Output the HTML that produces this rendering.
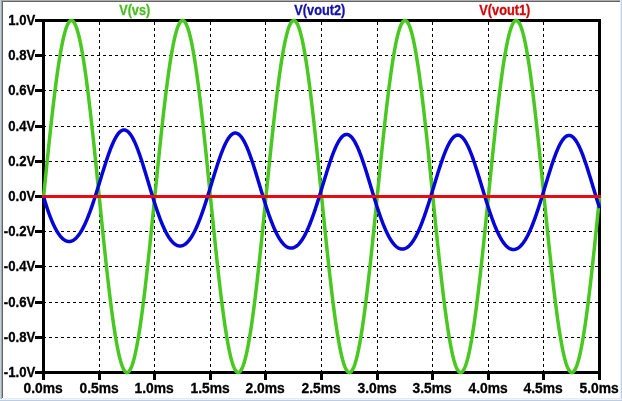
<!DOCTYPE html>
<html><head><meta charset="utf-8"><title>LTspice plot</title>
<style>
html,body{margin:0;padding:0;background:#fff;}
body{width:622px;height:401px;overflow:hidden;}
svg{display:block;will-change:transform;}
text{font-family:"Liberation Sans",Arial,sans-serif;font-weight:bold;font-size:14.3px;}
</style></head><body>
<svg width="622" height="401" viewBox="0 0 622 401">
<rect x="0" y="0" width="622" height="401" fill="#ffffff"/>
<g shape-rendering="crispEdges">
<rect x="0" y="0" width="620" height="1" fill="#adadad"/>
<rect x="2" y="1" width="618" height="1" fill="#646464"/>
<rect x="0" y="0" width="1" height="399" fill="#c6ced9"/>
<rect x="1" y="0" width="1" height="399" fill="#a3a7ae"/>
<rect x="2" y="1" width="1" height="397" fill="#62666a"/>
<rect x="620" y="0" width="1" height="401" fill="#e6eef8"/>
<rect x="621" y="0" width="1" height="401" fill="#bfd1ea"/>
<rect x="3" y="398" width="617" height="1" fill="#e9e9eb"/>
<rect x="0" y="399" width="622" height="1" fill="#eef4fb"/>
<rect x="0" y="400" width="622" height="1" fill="#b9cde7"/>
</g>
<g shape-rendering="crispEdges" stroke="#000" stroke-width="1" stroke-dasharray="3 3" fill="none">
<line x1="99.5" y1="22" x2="99.5" y2="371"/>
<line x1="154.5" y1="22" x2="154.5" y2="371"/>
<line x1="210.5" y1="22" x2="210.5" y2="371"/>
<line x1="265.5" y1="22" x2="265.5" y2="371"/>
<line x1="321.5" y1="22" x2="321.5" y2="371"/>
<line x1="377.5" y1="22" x2="377.5" y2="371"/>
<line x1="432.5" y1="22" x2="432.5" y2="371"/>
<line x1="488.5" y1="22" x2="488.5" y2="371"/>
<line x1="543.5" y1="22" x2="543.5" y2="371"/>
<line x1="43" y1="55.5" x2="598" y2="55.5"/>
<line x1="43" y1="90.5" x2="598" y2="90.5"/>
<line x1="43" y1="126.5" x2="598" y2="126.5"/>
<line x1="43" y1="161.5" x2="598" y2="161.5"/>
<line x1="43" y1="196.5" x2="598" y2="196.5"/>
<line x1="43" y1="231.5" x2="598" y2="231.5"/>
<line x1="43" y1="266.5" x2="598" y2="266.5"/>
<line x1="43" y1="302.5" x2="598" y2="302.5"/>
<line x1="43" y1="337.5" x2="598" y2="337.5"/>
</g>
<g shape-rendering="crispEdges" fill="#000">
<rect x="42" y="19" width="559" height="3"/>
<rect x="42" y="371" width="559" height="3"/>
<rect x="42" y="19" width="3" height="355"/>
<rect x="598" y="19" width="3" height="355"/>
<rect x="35" y="19" width="8" height="3"/>
<rect x="35" y="54" width="8" height="3"/>
<rect x="35" y="89" width="8" height="3"/>
<rect x="35" y="125" width="8" height="3"/>
<rect x="35" y="160" width="8" height="3"/>
<rect x="35" y="195" width="8" height="3"/>
<rect x="35" y="230" width="8" height="3"/>
<rect x="35" y="265" width="8" height="3"/>
<rect x="35" y="301" width="8" height="3"/>
<rect x="35" y="336" width="8" height="3"/>
<rect x="35" y="371" width="8" height="3"/>
<rect x="42" y="372" width="3" height="8"/>
<rect x="98" y="372" width="3" height="8"/>
<rect x="153" y="372" width="3" height="8"/>
<rect x="209" y="372" width="3" height="8"/>
<rect x="264" y="372" width="3" height="8"/>
<rect x="320" y="372" width="3" height="8"/>
<rect x="376" y="372" width="3" height="8"/>
<rect x="431" y="372" width="3" height="8"/>
<rect x="487" y="372" width="3" height="8"/>
<rect x="542" y="372" width="3" height="8"/>
<rect x="598" y="372" width="3" height="8"/>
</g>
<g fill="none" stroke-width="3.5" stroke-linejoin="round" stroke-linecap="butt">
<polyline stroke="#48c820" points="43.60,196.50 44.00,192.55 44.39,188.60 44.79,184.66 45.19,180.72 45.59,176.79 45.98,172.87 46.38,168.97 46.78,165.07 47.17,161.20 47.57,157.34 47.97,153.50 48.37,149.68 48.76,145.88 49.16,142.11 49.56,138.37 49.95,134.66 50.35,130.98 50.75,127.33 51.15,123.71 51.54,120.14 51.94,116.60 52.34,113.10 52.73,109.64 53.13,106.23 53.53,102.86 53.93,99.54 54.32,96.27 54.72,93.05 55.12,89.88 55.51,86.77 55.91,83.71 56.31,80.70 56.71,77.76 57.10,74.87 57.50,72.05 57.90,69.29 58.29,66.59 58.69,63.96 59.09,61.39 59.49,58.90 59.88,56.47 60.28,54.11 60.68,51.83 61.07,49.62 61.47,47.48 61.87,45.41 62.27,43.43 62.66,41.52 63.06,39.68 63.46,37.93 63.85,36.26 64.25,34.66 64.65,33.15 65.05,31.72 65.44,30.38 65.84,29.11 66.24,27.94 66.63,26.84 67.03,25.83 67.43,24.91 67.83,24.08 68.22,23.33 68.62,22.67 69.02,22.09 69.41,21.61 69.81,21.21 70.21,20.90 70.61,20.68 71.00,20.54 71.40,20.50 71.80,20.54 72.19,20.68 72.59,20.90 72.99,21.21 73.39,21.61 73.78,22.09 74.18,22.67 74.58,23.33 74.97,24.08 75.37,24.91 75.77,25.83 76.17,26.84 76.56,27.94 76.96,29.11 77.36,30.38 77.75,31.72 78.15,33.15 78.55,34.66 78.95,36.26 79.34,37.93 79.74,39.68 80.14,41.52 80.53,43.43 80.93,45.41 81.33,47.48 81.73,49.62 82.12,51.83 82.52,54.11 82.92,56.47 83.31,58.90 83.71,61.39 84.11,63.96 84.51,66.59 84.90,69.29 85.30,72.05 85.70,74.87 86.09,77.76 86.49,80.70 86.89,83.71 87.29,86.77 87.68,89.88 88.08,93.05 88.48,96.27 88.87,99.54 89.27,102.86 89.67,106.23 90.07,109.64 90.46,113.10 90.86,116.60 91.26,120.14 91.65,123.71 92.05,127.33 92.45,130.98 92.85,134.66 93.24,138.37 93.64,142.11 94.04,145.88 94.43,149.68 94.83,153.50 95.23,157.34 95.63,161.20 96.02,165.07 96.42,168.97 96.82,172.87 97.21,176.79 97.61,180.72 98.01,184.66 98.41,188.60 98.80,192.55 99.20,196.50 99.60,200.45 99.99,204.40 100.39,208.34 100.79,212.28 101.19,216.21 101.58,220.13 101.98,224.03 102.38,227.93 102.77,231.80 103.17,235.66 103.57,239.50 103.97,243.32 104.36,247.12 104.76,250.89 105.16,254.63 105.55,258.34 105.95,262.02 106.35,265.67 106.75,269.29 107.14,272.86 107.54,276.40 107.94,279.90 108.33,283.36 108.73,286.77 109.13,290.14 109.53,293.46 109.92,296.73 110.32,299.95 110.72,303.12 111.11,306.23 111.51,309.29 111.91,312.30 112.31,315.24 112.70,318.13 113.10,320.95 113.50,323.71 113.89,326.41 114.29,329.04 114.69,331.61 115.09,334.10 115.48,336.53 115.88,338.89 116.28,341.17 116.67,343.38 117.07,345.52 117.47,347.59 117.87,349.57 118.26,351.48 118.66,353.32 119.06,355.07 119.45,356.74 119.85,358.34 120.25,359.85 120.65,361.28 121.04,362.62 121.44,363.89 121.84,365.06 122.23,366.16 122.63,367.17 123.03,368.09 123.43,368.92 123.82,369.67 124.22,370.33 124.62,370.91 125.01,371.39 125.41,371.79 125.81,372.10 126.21,372.32 126.60,372.46 127.00,372.50 127.40,372.46 127.79,372.32 128.19,372.10 128.59,371.79 128.99,371.39 129.38,370.91 129.78,370.33 130.18,369.67 130.57,368.92 130.97,368.09 131.37,367.17 131.77,366.16 132.16,365.06 132.56,363.89 132.96,362.62 133.35,361.28 133.75,359.85 134.15,358.34 134.55,356.74 134.94,355.07 135.34,353.32 135.74,351.48 136.13,349.57 136.53,347.59 136.93,345.52 137.33,343.38 137.72,341.17 138.12,338.89 138.52,336.53 138.91,334.10 139.31,331.61 139.71,329.04 140.11,326.41 140.50,323.71 140.90,320.95 141.30,318.13 141.69,315.24 142.09,312.30 142.49,309.29 142.89,306.23 143.28,303.12 143.68,299.95 144.08,296.73 144.47,293.46 144.87,290.14 145.27,286.77 145.67,283.36 146.06,279.90 146.46,276.40 146.86,272.86 147.25,269.29 147.65,265.67 148.05,262.02 148.45,258.34 148.84,254.63 149.24,250.89 149.64,247.12 150.03,243.32 150.43,239.50 150.83,235.66 151.23,231.80 151.62,227.93 152.02,224.03 152.42,220.13 152.81,216.21 153.21,212.28 153.61,208.34 154.01,204.40 154.40,200.45 154.80,196.50 155.20,192.55 155.59,188.60 155.99,184.66 156.39,180.72 156.79,176.79 157.18,172.87 157.58,168.97 157.98,165.07 158.37,161.20 158.77,157.34 159.17,153.50 159.57,149.68 159.96,145.88 160.36,142.11 160.76,138.37 161.15,134.66 161.55,130.98 161.95,127.33 162.35,123.71 162.74,120.14 163.14,116.60 163.54,113.10 163.93,109.64 164.33,106.23 164.73,102.86 165.13,99.54 165.52,96.27 165.92,93.05 166.32,89.88 166.71,86.77 167.11,83.71 167.51,80.70 167.91,77.76 168.30,74.87 168.70,72.05 169.10,69.29 169.49,66.59 169.89,63.96 170.29,61.39 170.69,58.90 171.08,56.47 171.48,54.11 171.88,51.83 172.27,49.62 172.67,47.48 173.07,45.41 173.47,43.43 173.86,41.52 174.26,39.68 174.66,37.93 175.05,36.26 175.45,34.66 175.85,33.15 176.25,31.72 176.64,30.38 177.04,29.11 177.44,27.94 177.83,26.84 178.23,25.83 178.63,24.91 179.03,24.08 179.42,23.33 179.82,22.67 180.22,22.09 180.61,21.61 181.01,21.21 181.41,20.90 181.81,20.68 182.20,20.54 182.60,20.50 183.00,20.54 183.39,20.68 183.79,20.90 184.19,21.21 184.59,21.61 184.98,22.09 185.38,22.67 185.78,23.33 186.17,24.08 186.57,24.91 186.97,25.83 187.37,26.84 187.76,27.94 188.16,29.11 188.56,30.38 188.95,31.72 189.35,33.15 189.75,34.66 190.15,36.26 190.54,37.93 190.94,39.68 191.34,41.52 191.73,43.43 192.13,45.41 192.53,47.48 192.93,49.62 193.32,51.83 193.72,54.11 194.12,56.47 194.51,58.90 194.91,61.39 195.31,63.96 195.71,66.59 196.10,69.29 196.50,72.05 196.90,74.87 197.29,77.76 197.69,80.70 198.09,83.71 198.49,86.77 198.88,89.88 199.28,93.05 199.68,96.27 200.07,99.54 200.47,102.86 200.87,106.23 201.27,109.64 201.66,113.10 202.06,116.60 202.46,120.14 202.85,123.71 203.25,127.33 203.65,130.98 204.05,134.66 204.44,138.37 204.84,142.11 205.24,145.88 205.63,149.68 206.03,153.50 206.43,157.34 206.83,161.20 207.22,165.07 207.62,168.97 208.02,172.87 208.41,176.79 208.81,180.72 209.21,184.66 209.61,188.60 210.00,192.55 210.40,196.50 210.80,200.45 211.19,204.40 211.59,208.34 211.99,212.28 212.39,216.21 212.78,220.13 213.18,224.03 213.58,227.93 213.97,231.80 214.37,235.66 214.77,239.50 215.17,243.32 215.56,247.12 215.96,250.89 216.36,254.63 216.75,258.34 217.15,262.02 217.55,265.67 217.95,269.29 218.34,272.86 218.74,276.40 219.14,279.90 219.53,283.36 219.93,286.77 220.33,290.14 220.73,293.46 221.12,296.73 221.52,299.95 221.92,303.12 222.31,306.23 222.71,309.29 223.11,312.30 223.51,315.24 223.90,318.13 224.30,320.95 224.70,323.71 225.09,326.41 225.49,329.04 225.89,331.61 226.29,334.10 226.68,336.53 227.08,338.89 227.48,341.17 227.87,343.38 228.27,345.52 228.67,347.59 229.07,349.57 229.46,351.48 229.86,353.32 230.26,355.07 230.65,356.74 231.05,358.34 231.45,359.85 231.85,361.28 232.24,362.62 232.64,363.89 233.04,365.06 233.43,366.16 233.83,367.17 234.23,368.09 234.63,368.92 235.02,369.67 235.42,370.33 235.82,370.91 236.21,371.39 236.61,371.79 237.01,372.10 237.41,372.32 237.80,372.46 238.20,372.50 238.60,372.46 238.99,372.32 239.39,372.10 239.79,371.79 240.19,371.39 240.58,370.91 240.98,370.33 241.38,369.67 241.77,368.92 242.17,368.09 242.57,367.17 242.97,366.16 243.36,365.06 243.76,363.89 244.16,362.62 244.55,361.28 244.95,359.85 245.35,358.34 245.75,356.74 246.14,355.07 246.54,353.32 246.94,351.48 247.33,349.57 247.73,347.59 248.13,345.52 248.53,343.38 248.92,341.17 249.32,338.89 249.72,336.53 250.11,334.10 250.51,331.61 250.91,329.04 251.31,326.41 251.70,323.71 252.10,320.95 252.50,318.13 252.89,315.24 253.29,312.30 253.69,309.29 254.09,306.23 254.48,303.12 254.88,299.95 255.28,296.73 255.67,293.46 256.07,290.14 256.47,286.77 256.87,283.36 257.26,279.90 257.66,276.40 258.06,272.86 258.45,269.29 258.85,265.67 259.25,262.02 259.65,258.34 260.04,254.63 260.44,250.89 260.84,247.12 261.23,243.32 261.63,239.50 262.03,235.66 262.43,231.80 262.82,227.93 263.22,224.03 263.62,220.13 264.01,216.21 264.41,212.28 264.81,208.34 265.21,204.40 265.60,200.45 266.00,196.50 266.40,192.55 266.79,188.60 267.19,184.66 267.59,180.72 267.99,176.79 268.38,172.87 268.78,168.97 269.18,165.07 269.57,161.20 269.97,157.34 270.37,153.50 270.77,149.68 271.16,145.88 271.56,142.11 271.96,138.37 272.35,134.66 272.75,130.98 273.15,127.33 273.55,123.71 273.94,120.14 274.34,116.60 274.74,113.10 275.13,109.64 275.53,106.23 275.93,102.86 276.33,99.54 276.72,96.27 277.12,93.05 277.52,89.88 277.91,86.77 278.31,83.71 278.71,80.70 279.11,77.76 279.50,74.87 279.90,72.05 280.30,69.29 280.69,66.59 281.09,63.96 281.49,61.39 281.89,58.90 282.28,56.47 282.68,54.11 283.08,51.83 283.47,49.62 283.87,47.48 284.27,45.41 284.67,43.43 285.06,41.52 285.46,39.68 285.86,37.93 286.25,36.26 286.65,34.66 287.05,33.15 287.45,31.72 287.84,30.38 288.24,29.11 288.64,27.94 289.03,26.84 289.43,25.83 289.83,24.91 290.23,24.08 290.62,23.33 291.02,22.67 291.42,22.09 291.81,21.61 292.21,21.21 292.61,20.90 293.01,20.68 293.40,20.54 293.80,20.50 294.20,20.54 294.59,20.68 294.99,20.90 295.39,21.21 295.79,21.61 296.18,22.09 296.58,22.67 296.98,23.33 297.37,24.08 297.77,24.91 298.17,25.83 298.57,26.84 298.96,27.94 299.36,29.11 299.76,30.38 300.15,31.72 300.55,33.15 300.95,34.66 301.35,36.26 301.74,37.93 302.14,39.68 302.54,41.52 302.93,43.43 303.33,45.41 303.73,47.48 304.13,49.62 304.52,51.83 304.92,54.11 305.32,56.47 305.71,58.90 306.11,61.39 306.51,63.96 306.91,66.59 307.30,69.29 307.70,72.05 308.10,74.87 308.49,77.76 308.89,80.70 309.29,83.71 309.69,86.77 310.08,89.88 310.48,93.05 310.88,96.27 311.27,99.54 311.67,102.86 312.07,106.23 312.47,109.64 312.86,113.10 313.26,116.60 313.66,120.14 314.05,123.71 314.45,127.33 314.85,130.98 315.25,134.66 315.64,138.37 316.04,142.11 316.44,145.88 316.83,149.68 317.23,153.50 317.63,157.34 318.03,161.20 318.42,165.07 318.82,168.97 319.22,172.87 319.61,176.79 320.01,180.72 320.41,184.66 320.81,188.60 321.20,192.55 321.60,196.50 322.00,200.45 322.39,204.40 322.79,208.34 323.19,212.28 323.59,216.21 323.98,220.13 324.38,224.03 324.78,227.93 325.17,231.80 325.57,235.66 325.97,239.50 326.37,243.32 326.76,247.12 327.16,250.89 327.56,254.63 327.95,258.34 328.35,262.02 328.75,265.67 329.15,269.29 329.54,272.86 329.94,276.40 330.34,279.90 330.73,283.36 331.13,286.77 331.53,290.14 331.93,293.46 332.32,296.73 332.72,299.95 333.12,303.12 333.51,306.23 333.91,309.29 334.31,312.30 334.71,315.24 335.10,318.13 335.50,320.95 335.90,323.71 336.29,326.41 336.69,329.04 337.09,331.61 337.49,334.10 337.88,336.53 338.28,338.89 338.68,341.17 339.07,343.38 339.47,345.52 339.87,347.59 340.27,349.57 340.66,351.48 341.06,353.32 341.46,355.07 341.85,356.74 342.25,358.34 342.65,359.85 343.05,361.28 343.44,362.62 343.84,363.89 344.24,365.06 344.63,366.16 345.03,367.17 345.43,368.09 345.83,368.92 346.22,369.67 346.62,370.33 347.02,370.91 347.41,371.39 347.81,371.79 348.21,372.10 348.61,372.32 349.00,372.46 349.40,372.50 349.80,372.46 350.19,372.32 350.59,372.10 350.99,371.79 351.39,371.39 351.78,370.91 352.18,370.33 352.58,369.67 352.97,368.92 353.37,368.09 353.77,367.17 354.17,366.16 354.56,365.06 354.96,363.89 355.36,362.62 355.75,361.28 356.15,359.85 356.55,358.34 356.95,356.74 357.34,355.07 357.74,353.32 358.14,351.48 358.53,349.57 358.93,347.59 359.33,345.52 359.73,343.38 360.12,341.17 360.52,338.89 360.92,336.53 361.31,334.10 361.71,331.61 362.11,329.04 362.51,326.41 362.90,323.71 363.30,320.95 363.70,318.13 364.09,315.24 364.49,312.30 364.89,309.29 365.29,306.23 365.68,303.12 366.08,299.95 366.48,296.73 366.87,293.46 367.27,290.14 367.67,286.77 368.07,283.36 368.46,279.90 368.86,276.40 369.26,272.86 369.65,269.29 370.05,265.67 370.45,262.02 370.85,258.34 371.24,254.63 371.64,250.89 372.04,247.12 372.43,243.32 372.83,239.50 373.23,235.66 373.63,231.80 374.02,227.93 374.42,224.03 374.82,220.13 375.21,216.21 375.61,212.28 376.01,208.34 376.41,204.40 376.80,200.45 377.20,196.50 377.60,192.55 377.99,188.60 378.39,184.66 378.79,180.72 379.19,176.79 379.58,172.87 379.98,168.97 380.38,165.07 380.77,161.20 381.17,157.34 381.57,153.50 381.97,149.68 382.36,145.88 382.76,142.11 383.16,138.37 383.55,134.66 383.95,130.98 384.35,127.33 384.75,123.71 385.14,120.14 385.54,116.60 385.94,113.10 386.33,109.64 386.73,106.23 387.13,102.86 387.53,99.54 387.92,96.27 388.32,93.05 388.72,89.88 389.11,86.77 389.51,83.71 389.91,80.70 390.31,77.76 390.70,74.87 391.10,72.05 391.50,69.29 391.89,66.59 392.29,63.96 392.69,61.39 393.09,58.90 393.48,56.47 393.88,54.11 394.28,51.83 394.67,49.62 395.07,47.48 395.47,45.41 395.87,43.43 396.26,41.52 396.66,39.68 397.06,37.93 397.45,36.26 397.85,34.66 398.25,33.15 398.65,31.72 399.04,30.38 399.44,29.11 399.84,27.94 400.23,26.84 400.63,25.83 401.03,24.91 401.43,24.08 401.82,23.33 402.22,22.67 402.62,22.09 403.01,21.61 403.41,21.21 403.81,20.90 404.21,20.68 404.60,20.54 405.00,20.50 405.40,20.54 405.79,20.68 406.19,20.90 406.59,21.21 406.99,21.61 407.38,22.09 407.78,22.67 408.18,23.33 408.57,24.08 408.97,24.91 409.37,25.83 409.77,26.84 410.16,27.94 410.56,29.11 410.96,30.38 411.35,31.72 411.75,33.15 412.15,34.66 412.55,36.26 412.94,37.93 413.34,39.68 413.74,41.52 414.13,43.43 414.53,45.41 414.93,47.48 415.33,49.62 415.72,51.83 416.12,54.11 416.52,56.47 416.91,58.90 417.31,61.39 417.71,63.96 418.11,66.59 418.50,69.29 418.90,72.05 419.30,74.87 419.69,77.76 420.09,80.70 420.49,83.71 420.89,86.77 421.28,89.88 421.68,93.05 422.08,96.27 422.47,99.54 422.87,102.86 423.27,106.23 423.67,109.64 424.06,113.10 424.46,116.60 424.86,120.14 425.25,123.71 425.65,127.33 426.05,130.98 426.45,134.66 426.84,138.37 427.24,142.11 427.64,145.88 428.03,149.68 428.43,153.50 428.83,157.34 429.23,161.20 429.62,165.07 430.02,168.97 430.42,172.87 430.81,176.79 431.21,180.72 431.61,184.66 432.01,188.60 432.40,192.55 432.80,196.50 433.20,200.45 433.59,204.40 433.99,208.34 434.39,212.28 434.79,216.21 435.18,220.13 435.58,224.03 435.98,227.93 436.37,231.80 436.77,235.66 437.17,239.50 437.57,243.32 437.96,247.12 438.36,250.89 438.76,254.63 439.15,258.34 439.55,262.02 439.95,265.67 440.35,269.29 440.74,272.86 441.14,276.40 441.54,279.90 441.93,283.36 442.33,286.77 442.73,290.14 443.13,293.46 443.52,296.73 443.92,299.95 444.32,303.12 444.71,306.23 445.11,309.29 445.51,312.30 445.91,315.24 446.30,318.13 446.70,320.95 447.10,323.71 447.49,326.41 447.89,329.04 448.29,331.61 448.69,334.10 449.08,336.53 449.48,338.89 449.88,341.17 450.27,343.38 450.67,345.52 451.07,347.59 451.47,349.57 451.86,351.48 452.26,353.32 452.66,355.07 453.05,356.74 453.45,358.34 453.85,359.85 454.25,361.28 454.64,362.62 455.04,363.89 455.44,365.06 455.83,366.16 456.23,367.17 456.63,368.09 457.03,368.92 457.42,369.67 457.82,370.33 458.22,370.91 458.61,371.39 459.01,371.79 459.41,372.10 459.81,372.32 460.20,372.46 460.60,372.50 461.00,372.46 461.39,372.32 461.79,372.10 462.19,371.79 462.59,371.39 462.98,370.91 463.38,370.33 463.78,369.67 464.17,368.92 464.57,368.09 464.97,367.17 465.37,366.16 465.76,365.06 466.16,363.89 466.56,362.62 466.95,361.28 467.35,359.85 467.75,358.34 468.15,356.74 468.54,355.07 468.94,353.32 469.34,351.48 469.73,349.57 470.13,347.59 470.53,345.52 470.93,343.38 471.32,341.17 471.72,338.89 472.12,336.53 472.51,334.10 472.91,331.61 473.31,329.04 473.71,326.41 474.10,323.71 474.50,320.95 474.90,318.13 475.29,315.24 475.69,312.30 476.09,309.29 476.49,306.23 476.88,303.12 477.28,299.95 477.68,296.73 478.07,293.46 478.47,290.14 478.87,286.77 479.27,283.36 479.66,279.90 480.06,276.40 480.46,272.86 480.85,269.29 481.25,265.67 481.65,262.02 482.05,258.34 482.44,254.63 482.84,250.89 483.24,247.12 483.63,243.32 484.03,239.50 484.43,235.66 484.83,231.80 485.22,227.93 485.62,224.03 486.02,220.13 486.41,216.21 486.81,212.28 487.21,208.34 487.61,204.40 488.00,200.45 488.40,196.50 488.80,192.55 489.19,188.60 489.59,184.66 489.99,180.72 490.39,176.79 490.78,172.87 491.18,168.97 491.58,165.07 491.97,161.20 492.37,157.34 492.77,153.50 493.17,149.68 493.56,145.88 493.96,142.11 494.36,138.37 494.75,134.66 495.15,130.98 495.55,127.33 495.95,123.71 496.34,120.14 496.74,116.60 497.14,113.10 497.53,109.64 497.93,106.23 498.33,102.86 498.73,99.54 499.12,96.27 499.52,93.05 499.92,89.88 500.31,86.77 500.71,83.71 501.11,80.70 501.51,77.76 501.90,74.87 502.30,72.05 502.70,69.29 503.09,66.59 503.49,63.96 503.89,61.39 504.29,58.90 504.68,56.47 505.08,54.11 505.48,51.83 505.87,49.62 506.27,47.48 506.67,45.41 507.07,43.43 507.46,41.52 507.86,39.68 508.26,37.93 508.65,36.26 509.05,34.66 509.45,33.15 509.85,31.72 510.24,30.38 510.64,29.11 511.04,27.94 511.43,26.84 511.83,25.83 512.23,24.91 512.63,24.08 513.02,23.33 513.42,22.67 513.82,22.09 514.21,21.61 514.61,21.21 515.01,20.90 515.41,20.68 515.80,20.54 516.20,20.50 516.60,20.54 516.99,20.68 517.39,20.90 517.79,21.21 518.19,21.61 518.58,22.09 518.98,22.67 519.38,23.33 519.77,24.08 520.17,24.91 520.57,25.83 520.97,26.84 521.36,27.94 521.76,29.11 522.16,30.38 522.55,31.72 522.95,33.15 523.35,34.66 523.75,36.26 524.14,37.93 524.54,39.68 524.94,41.52 525.33,43.43 525.73,45.41 526.13,47.48 526.53,49.62 526.92,51.83 527.32,54.11 527.72,56.47 528.11,58.90 528.51,61.39 528.91,63.96 529.31,66.59 529.70,69.29 530.10,72.05 530.50,74.87 530.89,77.76 531.29,80.70 531.69,83.71 532.09,86.77 532.48,89.88 532.88,93.05 533.28,96.27 533.67,99.54 534.07,102.86 534.47,106.23 534.87,109.64 535.26,113.10 535.66,116.60 536.06,120.14 536.45,123.71 536.85,127.33 537.25,130.98 537.65,134.66 538.04,138.37 538.44,142.11 538.84,145.88 539.23,149.68 539.63,153.50 540.03,157.34 540.43,161.20 540.82,165.07 541.22,168.97 541.62,172.87 542.01,176.79 542.41,180.72 542.81,184.66 543.21,188.60 543.60,192.55 544.00,196.50 544.40,200.45 544.79,204.40 545.19,208.34 545.59,212.28 545.99,216.21 546.38,220.13 546.78,224.03 547.18,227.93 547.57,231.80 547.97,235.66 548.37,239.50 548.77,243.32 549.16,247.12 549.56,250.89 549.96,254.63 550.35,258.34 550.75,262.02 551.15,265.67 551.55,269.29 551.94,272.86 552.34,276.40 552.74,279.90 553.13,283.36 553.53,286.77 553.93,290.14 554.33,293.46 554.72,296.73 555.12,299.95 555.52,303.12 555.91,306.23 556.31,309.29 556.71,312.30 557.11,315.24 557.50,318.13 557.90,320.95 558.30,323.71 558.69,326.41 559.09,329.04 559.49,331.61 559.89,334.10 560.28,336.53 560.68,338.89 561.08,341.17 561.47,343.38 561.87,345.52 562.27,347.59 562.67,349.57 563.06,351.48 563.46,353.32 563.86,355.07 564.25,356.74 564.65,358.34 565.05,359.85 565.45,361.28 565.84,362.62 566.24,363.89 566.64,365.06 567.03,366.16 567.43,367.17 567.83,368.09 568.23,368.92 568.62,369.67 569.02,370.33 569.42,370.91 569.81,371.39 570.21,371.79 570.61,372.10 571.01,372.32 571.40,372.46 571.80,372.50 572.20,372.46 572.59,372.32 572.99,372.10 573.39,371.79 573.79,371.39 574.18,370.91 574.58,370.33 574.98,369.67 575.37,368.92 575.77,368.09 576.17,367.17 576.57,366.16 576.96,365.06 577.36,363.89 577.76,362.62 578.15,361.28 578.55,359.85 578.95,358.34 579.35,356.74 579.74,355.07 580.14,353.32 580.54,351.48 580.93,349.57 581.33,347.59 581.73,345.52 582.13,343.38 582.52,341.17 582.92,338.89 583.32,336.53 583.71,334.10 584.11,331.61 584.51,329.04 584.91,326.41 585.30,323.71 585.70,320.95 586.10,318.13 586.49,315.24 586.89,312.30 587.29,309.29 587.69,306.23 588.08,303.12 588.48,299.95 588.88,296.73 589.27,293.46 589.67,290.14 590.07,286.77 590.47,283.36 590.86,279.90 591.26,276.40 591.66,272.86 592.05,269.29 592.45,265.67 592.85,262.02 593.25,258.34 593.64,254.63 594.04,250.89 594.44,247.12 594.83,243.32 595.23,239.50 595.63,235.66 596.03,231.80 596.42,227.93 596.82,224.03 597.22,220.13 597.61,216.21 598.01,212.28 598.41,208.34 598.81,204.40 599.20,200.45 599.60,196.50"/>
<polyline stroke="#0505d7" points="43.60,196.50 44.00,197.93 44.39,199.33 44.79,200.69 45.19,202.03 45.59,203.34 45.98,204.62 46.38,205.88 46.78,207.11 47.17,208.32 47.57,209.51 47.97,210.67 48.37,211.81 48.76,212.93 49.16,214.02 49.56,215.10 49.95,216.15 50.35,217.18 50.75,218.19 51.15,219.18 51.54,220.15 51.94,221.10 52.34,222.03 52.73,222.93 53.13,223.82 53.53,224.68 53.93,225.53 54.32,226.35 54.72,227.15 55.12,227.93 55.51,228.68 55.91,229.42 56.31,230.14 56.71,230.83 57.10,231.50 57.50,232.15 57.90,232.78 58.29,233.39 58.69,233.97 59.09,234.54 59.49,235.08 59.88,235.60 60.28,236.10 60.68,236.57 61.07,237.03 61.47,237.46 61.87,237.87 62.27,238.26 62.66,238.63 63.06,238.97 63.46,239.29 63.85,239.59 64.25,239.87 64.65,240.13 65.05,240.36 65.44,240.58 65.84,240.77 66.24,240.93 66.63,241.08 67.03,241.20 67.43,241.30 67.83,241.38 68.22,241.44 68.62,241.48 69.02,241.49 69.41,241.48 69.81,241.45 70.21,241.40 70.61,241.32 71.00,241.23 71.40,241.11 71.80,240.97 72.19,240.80 72.59,240.62 72.99,240.41 73.39,240.18 73.78,239.93 74.18,239.65 74.58,239.36 74.97,239.04 75.37,238.70 75.77,238.34 76.17,237.96 76.56,237.55 76.96,237.13 77.36,236.68 77.75,236.21 78.15,235.72 78.55,235.20 78.95,234.67 79.34,234.11 79.74,233.54 80.14,232.94 80.53,232.32 80.93,231.68 81.33,231.01 81.73,230.33 82.12,229.63 82.52,228.90 82.92,228.16 83.31,227.40 83.71,226.61 84.11,225.81 84.51,224.98 84.90,224.14 85.30,223.28 85.70,222.39 86.09,221.49 86.49,220.57 86.89,219.64 87.29,218.68 87.68,217.71 88.08,216.72 88.48,215.71 88.87,214.68 89.27,213.64 89.67,212.59 90.07,211.51 90.46,210.42 90.86,209.32 91.26,208.20 91.65,207.07 92.05,205.93 92.45,204.77 92.85,203.60 93.24,202.42 93.64,201.22 94.04,200.02 94.43,198.80 94.83,197.58 95.23,196.35 95.63,195.10 96.02,193.85 96.42,192.59 96.82,191.33 97.21,190.06 97.61,188.78 98.01,187.50 98.41,186.21 98.80,184.92 99.20,183.63 99.60,182.33 99.99,181.04 100.39,179.74 100.79,178.45 101.19,177.15 101.58,175.86 101.98,174.57 102.38,173.28 102.77,172.00 103.17,170.72 103.57,169.45 103.97,168.18 104.36,166.92 104.76,165.67 105.16,164.43 105.55,163.20 105.95,161.98 106.35,160.77 106.75,159.58 107.14,158.39 107.54,157.22 107.94,156.07 108.33,154.93 108.73,153.80 109.13,152.70 109.53,151.61 109.92,150.54 110.32,149.49 110.72,148.46 111.11,147.45 111.51,146.47 111.91,145.50 112.31,144.56 112.70,143.64 113.10,142.75 113.50,141.88 113.89,141.04 114.29,140.23 114.69,139.44 115.09,138.68 115.48,137.95 115.88,137.24 116.28,136.57 116.67,135.93 117.07,135.32 117.47,134.73 117.87,134.18 118.26,133.67 118.66,133.18 119.06,132.73 119.45,132.31 119.85,131.92 120.25,131.57 120.65,131.25 121.04,130.97 121.44,130.72 121.84,130.50 122.23,130.32 122.63,130.18 123.03,130.07 123.43,129.99 123.82,129.95 124.22,129.95 124.62,129.98 125.01,130.05 125.41,130.15 125.81,130.29 126.21,130.46 126.60,130.67 127.00,130.91 127.40,131.19 127.79,131.50 128.19,131.85 128.59,132.23 128.99,132.65 129.38,133.09 129.78,133.58 130.18,134.09 130.57,134.64 130.97,135.22 131.37,135.83 131.77,136.47 132.16,137.14 132.56,137.84 132.96,138.57 133.35,139.33 133.75,140.12 134.15,140.94 134.55,141.78 134.94,142.65 135.34,143.55 135.74,144.47 136.13,145.42 136.53,146.39 136.93,147.38 137.33,148.40 137.72,149.44 138.12,150.50 138.52,151.58 138.91,152.67 139.31,153.79 139.71,154.93 140.11,156.08 140.50,157.25 140.90,158.44 141.30,159.64 141.69,160.85 142.09,162.08 142.49,163.32 142.89,164.57 143.28,165.83 143.68,167.10 144.08,168.39 144.47,169.67 144.87,170.97 145.27,172.28 145.67,173.58 146.06,174.90 146.46,176.22 146.86,177.54 147.25,178.86 147.65,180.19 148.05,181.52 148.45,182.85 148.84,184.17 149.24,185.50 149.64,186.82 150.03,188.15 150.43,189.46 150.83,190.78 151.23,192.09 151.62,193.39 152.02,194.69 152.42,195.98 152.81,197.27 153.21,198.54 153.61,199.81 154.01,201.07 154.40,202.32 154.80,203.56 155.20,204.78 155.59,206.00 155.99,207.20 156.39,208.39 156.79,209.57 157.18,210.74 157.58,211.89 157.98,213.02 158.37,214.15 158.77,215.25 159.17,216.34 159.57,217.42 159.96,218.48 160.36,219.52 160.76,220.54 161.15,221.55 161.55,222.54 161.95,223.51 162.35,224.47 162.74,225.40 163.14,226.32 163.54,227.22 163.93,228.10 164.33,228.95 164.73,229.79 165.13,230.61 165.52,231.41 165.92,232.19 166.32,232.95 166.71,233.69 167.11,234.41 167.51,235.10 167.91,235.78 168.30,236.43 168.70,237.07 169.10,237.68 169.49,238.27 169.89,238.84 170.29,239.39 170.69,239.92 171.08,240.42 171.48,240.91 171.88,241.37 172.27,241.81 172.67,242.23 173.07,242.62 173.47,243.00 173.86,243.35 174.26,243.68 174.66,243.99 175.05,244.28 175.45,244.54 175.85,244.79 176.25,245.01 176.64,245.21 177.04,245.38 177.44,245.54 177.83,245.67 178.23,245.78 178.63,245.87 179.03,245.94 179.42,245.98 179.82,246.01 180.22,246.01 180.61,245.99 181.01,245.94 181.41,245.88 181.81,245.79 182.20,245.68 182.60,245.55 183.00,245.40 183.39,245.22 183.79,245.02 184.19,244.80 184.59,244.56 184.98,244.30 185.38,244.01 185.78,243.70 186.17,243.38 186.57,243.02 186.97,242.65 187.37,242.26 187.76,241.84 188.16,241.40 188.56,240.94 188.95,240.46 189.35,239.96 189.75,239.43 190.15,238.88 190.54,238.32 190.94,237.73 191.34,237.12 191.73,236.49 192.13,235.83 192.53,235.16 192.93,234.47 193.32,233.75 193.72,233.02 194.12,232.26 194.51,231.49 194.91,230.69 195.31,229.87 195.71,229.04 196.10,228.18 196.50,227.31 196.90,226.42 197.29,225.51 197.69,224.57 198.09,223.63 198.49,222.66 198.88,221.68 199.28,220.67 199.68,219.65 200.07,218.62 200.47,217.57 200.87,216.50 201.27,215.42 201.66,214.32 202.06,213.20 202.46,212.08 202.85,210.93 203.25,209.78 203.65,208.61 204.05,207.43 204.44,206.24 204.84,205.03 205.24,203.82 205.63,202.59 206.03,201.36 206.43,200.11 206.83,198.86 207.22,197.60 207.62,196.33 208.02,195.05 208.41,193.77 208.81,192.48 209.21,191.19 209.61,189.89 210.00,188.60 210.40,187.29 210.80,185.99 211.19,184.68 211.59,183.38 211.99,182.07 212.39,180.77 212.78,179.46 213.18,178.16 213.58,176.87 213.97,175.57 214.37,174.29 214.77,173.00 215.17,171.73 215.56,170.46 215.96,169.20 216.36,167.95 216.75,166.71 217.15,165.48 217.55,164.26 217.95,163.05 218.34,161.86 218.74,160.68 219.14,159.52 219.53,158.37 219.93,157.24 220.33,156.12 220.73,155.02 221.12,153.94 221.52,152.88 221.92,151.85 222.31,150.83 222.71,149.83 223.11,148.86 223.51,147.91 223.90,146.98 224.30,146.08 224.70,145.20 225.09,144.35 225.49,143.53 225.89,142.73 226.29,141.96 226.68,141.22 227.08,140.51 227.48,139.83 227.87,139.18 228.27,138.55 228.67,137.96 229.07,137.40 229.46,136.88 229.86,136.38 230.26,135.92 230.65,135.49 231.05,135.10 231.45,134.74 231.85,134.41 232.24,134.12 232.64,133.86 233.04,133.63 233.43,133.45 233.83,133.29 234.23,133.17 234.63,133.09 235.02,133.04 235.42,133.03 235.82,133.05 236.21,133.11 236.61,133.21 237.01,133.34 237.41,133.50 237.80,133.70 238.20,133.94 238.60,134.21 238.99,134.51 239.39,134.85 239.79,135.22 240.19,135.63 240.58,136.07 240.98,136.54 241.38,137.05 241.77,137.59 242.17,138.16 242.57,138.76 242.97,139.39 243.36,140.06 243.76,140.75 244.16,141.47 244.55,142.23 244.95,143.01 245.35,143.81 245.75,144.65 246.14,145.51 246.54,146.40 246.94,147.32 247.33,148.26 247.73,149.22 248.13,150.20 248.53,151.21 248.92,152.24 249.32,153.30 249.72,154.37 250.11,155.46 250.51,156.57 250.91,157.70 251.31,158.84 251.70,160.01 252.10,161.18 252.50,162.38 252.89,163.58 253.29,164.80 253.69,166.04 254.09,167.28 254.48,168.53 254.88,169.80 255.28,171.07 255.67,172.35 256.07,173.64 256.47,174.94 256.87,176.24 257.26,177.55 257.66,178.86 258.06,180.17 258.45,181.49 258.85,182.81 259.25,184.13 259.65,185.45 260.04,186.77 260.44,188.09 260.84,189.41 261.23,190.72 261.63,192.04 262.03,193.34 262.43,194.65 262.82,195.94 263.22,197.23 263.62,198.52 264.01,199.80 264.41,201.07 264.81,202.33 265.21,203.58 265.60,204.82 266.00,206.05 266.40,207.27 266.79,208.48 267.19,209.68 267.59,210.86 267.99,212.03 268.38,213.19 268.78,214.33 269.18,215.46 269.57,216.58 269.97,217.68 270.37,218.76 270.77,219.83 271.16,220.88 271.56,221.92 271.96,222.94 272.35,223.94 272.75,224.92 273.15,225.89 273.55,226.84 273.94,227.76 274.34,228.67 274.74,229.57 275.13,230.44 275.53,231.29 275.93,232.12 276.33,232.94 276.72,233.73 277.12,234.50 277.52,235.25 277.91,235.99 278.31,236.70 278.71,237.39 279.11,238.06 279.50,238.71 279.90,239.33 280.30,239.94 280.69,240.52 281.09,241.09 281.49,241.63 281.89,242.15 282.28,242.65 282.68,243.13 283.08,243.58 283.47,244.02 283.87,244.43 284.27,244.82 284.67,245.19 285.06,245.54 285.46,245.86 285.86,246.16 286.25,246.45 286.65,246.71 287.05,246.94 287.45,247.16 287.84,247.35 288.24,247.52 288.64,247.67 289.03,247.80 289.43,247.90 289.83,247.99 290.23,248.05 290.62,248.09 291.02,248.10 291.42,248.10 291.81,248.07 292.21,248.02 292.61,247.95 293.01,247.86 293.40,247.74 293.80,247.61 294.20,247.45 294.59,247.27 294.99,247.06 295.39,246.84 295.79,246.59 296.18,246.32 296.58,246.03 296.98,245.72 297.37,245.38 297.77,245.03 298.17,244.65 298.57,244.25 298.96,243.83 299.36,243.38 299.76,242.92 300.15,242.43 300.55,241.92 300.95,241.39 301.35,240.84 301.74,240.27 302.14,239.67 302.54,239.06 302.93,238.42 303.33,237.76 303.73,237.08 304.13,236.38 304.52,235.66 304.92,234.92 305.32,234.16 305.71,233.38 306.11,232.58 306.51,231.76 306.91,230.92 307.30,230.06 307.70,229.18 308.10,228.28 308.49,227.36 308.89,226.43 309.29,225.48 309.69,224.50 310.08,223.51 310.48,222.51 310.88,221.48 311.27,220.44 311.67,219.39 312.07,218.31 312.47,217.23 312.86,216.12 313.26,215.00 313.66,213.87 314.05,212.72 314.45,211.56 314.85,210.39 315.25,209.20 315.64,208.01 316.04,206.80 316.44,205.58 316.83,204.35 317.23,203.11 317.63,201.86 318.03,200.60 318.42,199.33 318.82,198.06 319.22,196.78 319.61,195.49 320.01,194.20 320.41,192.90 320.81,191.60 321.20,190.30 321.60,188.99 322.00,187.68 322.39,186.37 322.79,185.06 323.19,183.75 323.59,182.44 323.98,181.13 324.38,179.83 324.78,178.53 325.17,177.23 325.57,175.94 325.97,174.65 326.37,173.37 326.76,172.10 327.16,170.84 327.56,169.58 327.95,168.33 328.35,167.10 328.75,165.88 329.15,164.67 329.54,163.47 329.94,162.28 330.34,161.12 330.73,159.96 331.13,158.83 331.53,157.71 331.93,156.60 332.32,155.52 332.72,154.46 333.12,153.41 333.51,152.39 333.91,151.39 334.31,150.41 334.71,149.46 335.10,148.53 335.50,147.62 335.90,146.74 336.29,145.89 336.69,145.06 337.09,144.26 337.49,143.48 337.88,142.74 338.28,142.02 338.68,141.34 339.07,140.68 339.47,140.05 339.87,139.46 340.27,138.90 340.66,138.37 341.06,137.87 341.46,137.40 341.85,136.97 342.25,136.57 342.65,136.20 343.05,135.87 343.44,135.58 343.84,135.31 344.24,135.09 344.63,134.89 345.03,134.74 345.43,134.61 345.83,134.53 346.22,134.47 346.62,134.46 347.02,134.48 347.41,134.53 347.81,134.62 348.21,134.75 348.61,134.91 349.00,135.11 349.40,135.34 349.80,135.60 350.19,135.90 350.59,136.24 350.99,136.61 351.39,137.01 351.78,137.45 352.18,137.92 352.58,138.42 352.97,138.95 353.37,139.52 353.77,140.12 354.17,140.75 354.56,141.41 354.96,142.10 355.36,142.82 355.75,143.57 356.15,144.34 356.55,145.15 356.95,145.98 357.34,146.84 357.74,147.73 358.14,148.64 358.53,149.57 358.93,150.53 359.33,151.51 359.73,152.52 360.12,153.54 360.52,154.59 360.92,155.66 361.31,156.75 361.71,157.86 362.11,158.98 362.51,160.12 362.90,161.28 363.30,162.46 363.70,163.65 364.09,164.85 364.49,166.06 364.89,167.29 365.29,168.53 365.68,169.79 366.08,171.05 366.48,172.32 366.87,173.60 367.27,174.88 367.67,176.17 368.07,177.47 368.46,178.78 368.86,180.08 369.26,181.40 369.65,182.71 370.05,184.03 370.45,185.34 370.85,186.66 371.24,187.98 371.64,189.29 372.04,190.61 372.43,191.92 372.83,193.23 373.23,194.53 373.63,195.83 374.02,197.12 374.42,198.41 374.82,199.69 375.21,200.97 375.61,202.23 376.01,203.49 376.41,204.74 376.80,205.98 377.20,207.21 377.60,208.42 377.99,209.63 378.39,210.82 378.79,212.00 379.19,213.17 379.58,214.33 379.98,215.47 380.38,216.60 380.77,217.71 381.17,218.80 381.57,219.89 381.97,220.95 382.36,222.00 382.76,223.03 383.16,224.05 383.55,225.05 383.95,226.03 384.35,226.99 384.75,227.93 385.14,228.86 385.54,229.77 385.94,230.65 386.33,231.52 386.73,232.37 387.13,233.20 387.53,234.01 387.92,234.80 388.32,235.57 388.72,236.32 389.11,237.05 389.51,237.76 389.91,238.45 390.31,239.11 390.70,239.76 391.10,240.38 391.50,240.99 391.89,241.57 392.29,242.13 392.69,242.67 393.09,243.19 393.48,243.68 393.88,244.16 394.28,244.61 394.67,245.04 395.07,245.45 395.47,245.84 395.87,246.21 396.26,246.55 396.66,246.87 397.06,247.17 397.45,247.45 397.85,247.71 398.25,247.94 398.65,248.15 399.04,248.34 399.44,248.51 399.84,248.66 400.23,248.78 400.63,248.89 401.03,248.97 401.43,249.03 401.82,249.06 402.22,249.08 402.62,249.07 403.01,249.04 403.41,248.99 403.81,248.91 404.21,248.82 404.60,248.70 405.00,248.56 405.40,248.40 405.79,248.21 406.19,248.01 406.59,247.78 406.99,247.53 407.38,247.26 407.78,246.97 408.18,246.65 408.57,246.31 408.97,245.95 409.37,245.57 409.77,245.17 410.16,244.75 410.56,244.30 410.96,243.83 411.35,243.34 411.75,242.83 412.15,242.30 412.55,241.74 412.94,241.17 413.34,240.57 413.74,239.95 414.13,239.31 414.53,238.65 414.93,237.97 415.33,237.27 415.72,236.55 416.12,235.81 416.52,235.04 416.91,234.26 417.31,233.46 417.71,232.63 418.11,231.79 418.50,230.93 418.90,230.05 419.30,229.15 419.69,228.23 420.09,227.29 420.49,226.33 420.89,225.36 421.28,224.37 421.68,223.36 422.08,222.33 422.47,221.29 422.87,220.23 423.27,219.15 423.67,218.06 424.06,216.96 424.46,215.84 424.86,214.70 425.25,213.55 425.65,212.39 426.05,211.21 426.45,210.03 426.84,208.83 427.24,207.62 427.64,206.39 428.03,205.16 428.43,203.92 428.83,202.67 429.23,201.41 429.62,200.14 430.02,198.86 430.42,197.58 430.81,196.29 431.21,195.00 431.61,193.70 432.01,192.39 432.40,191.09 432.80,189.78 433.20,188.47 433.59,187.15 433.99,185.84 434.39,184.53 434.79,183.22 435.18,181.91 435.58,180.60 435.98,179.30 436.37,178.00 436.77,176.70 437.17,175.42 437.57,174.13 437.96,172.86 438.36,171.59 438.76,170.33 439.15,169.09 439.55,167.85 439.95,166.63 440.35,165.41 440.74,164.21 441.14,163.03 441.54,161.86 441.93,160.70 442.33,159.56 442.73,158.44 443.13,157.34 443.52,156.25 443.92,155.19 444.32,154.14 444.71,153.12 445.11,152.11 445.51,151.13 445.91,150.18 446.30,149.24 446.70,148.34 447.10,147.45 447.49,146.60 447.89,145.77 448.29,144.96 448.69,144.19 449.08,143.44 449.48,142.72 449.88,142.04 450.27,141.38 450.67,140.75 451.07,140.15 451.47,139.59 451.86,139.06 452.26,138.56 452.66,138.09 453.05,137.65 453.45,137.25 453.85,136.88 454.25,136.55 454.64,136.25 455.04,135.99 455.44,135.76 455.83,135.56 456.23,135.40 456.63,135.28 457.03,135.19 457.42,135.14 457.82,135.12 458.22,135.14 458.61,135.19 459.01,135.28 459.41,135.40 459.81,135.56 460.20,135.76 460.60,135.99 461.00,136.25 461.39,136.55 461.79,136.88 462.19,137.25 462.59,137.65 462.98,138.09 463.38,138.55 463.78,139.05 464.17,139.59 464.57,140.15 464.97,140.75 465.37,141.38 465.76,142.03 466.16,142.72 466.56,143.44 466.95,144.19 467.35,144.96 467.75,145.77 468.15,146.60 468.54,147.45 468.94,148.34 469.34,149.25 469.73,150.18 470.13,151.14 470.53,152.12 470.93,153.12 471.32,154.15 471.72,155.19 472.12,156.26 472.51,157.35 472.91,158.45 473.31,159.58 473.71,160.72 474.10,161.87 474.50,163.05 474.90,164.23 475.29,165.43 475.69,166.65 476.09,167.88 476.49,169.12 476.88,170.37 477.28,171.63 477.68,172.89 478.07,174.17 478.47,175.46 478.87,176.75 479.27,178.04 479.66,179.35 480.06,180.65 480.46,181.96 480.85,183.27 481.25,184.59 481.65,185.90 482.05,187.22 482.44,188.54 482.84,189.85 483.24,191.16 483.63,192.47 484.03,193.78 484.43,195.08 484.83,196.38 485.22,197.67 485.62,198.96 486.02,200.24 486.41,201.51 486.81,202.78 487.21,204.03 487.61,205.28 488.00,206.51 488.40,207.74 488.80,208.96 489.19,210.16 489.59,211.35 489.99,212.53 490.39,213.70 490.78,214.85 491.18,215.99 491.58,217.12 491.97,218.23 492.37,219.33 492.77,220.41 493.17,221.47 493.56,222.52 493.96,223.55 494.36,224.56 494.75,225.56 495.15,226.54 495.55,227.50 495.95,228.44 496.34,229.37 496.74,230.27 497.14,231.16 497.53,232.03 497.93,232.87 498.33,233.70 498.73,234.51 499.12,235.30 499.52,236.07 499.92,236.82 500.31,237.54 500.71,238.25 501.11,238.94 501.51,239.60 501.90,240.25 502.30,240.87 502.70,241.47 503.09,242.05 503.49,242.61 503.89,243.15 504.29,243.67 504.68,244.16 505.08,244.64 505.48,245.09 505.87,245.52 506.27,245.93 506.67,246.31 507.07,246.68 507.46,247.02 507.86,247.34 508.26,247.64 508.65,247.92 509.05,248.17 509.45,248.40 509.85,248.62 510.24,248.81 510.64,248.97 511.04,249.12 511.43,249.24 511.83,249.34 512.23,249.42 512.63,249.48 513.02,249.51 513.42,249.53 513.82,249.52 514.21,249.49 514.61,249.43 515.01,249.36 515.41,249.26 515.80,249.14 516.20,249.00 516.60,248.84 516.99,248.65 517.39,248.45 517.79,248.22 518.19,247.97 518.58,247.69 518.98,247.40 519.38,247.08 519.77,246.74 520.17,246.38 520.57,246.00 520.97,245.60 521.36,245.17 521.76,244.72 522.16,244.26 522.55,243.76 522.95,243.25 523.35,242.72 523.75,242.16 524.14,241.59 524.54,240.99 524.94,240.37 525.33,239.73 525.73,239.07 526.13,238.39 526.53,237.68 526.92,236.96 527.32,236.22 527.72,235.45 528.11,234.67 528.51,233.86 528.91,233.04 529.31,232.19 529.70,231.33 530.10,230.45 530.50,229.55 530.89,228.63 531.29,227.69 531.69,226.73 532.09,225.75 532.48,224.76 532.88,223.75 533.28,222.72 533.67,221.68 534.07,220.62 534.47,219.54 534.87,218.45 535.26,217.34 535.66,216.22 536.06,215.09 536.45,213.94 536.85,212.77 537.25,211.60 537.65,210.41 538.04,209.21 538.44,207.99 538.84,206.77 539.23,205.54 539.63,204.29 540.03,203.04 540.43,201.78 540.82,200.51 541.22,199.23 541.62,197.95 542.01,196.66 542.41,195.36 542.81,194.06 543.21,192.76 543.60,191.45 544.00,190.14 544.40,188.83 544.79,187.52 545.19,186.20 545.59,184.89 545.99,183.58 546.38,182.27 546.78,180.96 547.18,179.65 547.57,178.35 547.97,177.06 548.37,175.77 548.77,174.49 549.16,173.21 549.56,171.94 549.96,170.68 550.35,169.44 550.75,168.20 551.15,166.97 551.55,165.76 551.94,164.56 552.34,163.37 552.74,162.20 553.13,161.04 553.53,159.90 553.93,158.78 554.33,157.68 554.72,156.59 555.12,155.52 555.52,154.48 555.91,153.45 556.31,152.45 556.71,151.47 557.11,150.51 557.50,149.58 557.90,148.67 558.30,147.78 558.69,146.93 559.09,146.09 559.49,145.29 559.89,144.51 560.28,143.77 560.68,143.05 561.08,142.36 561.47,141.70 561.87,141.07 562.27,140.48 562.67,139.91 563.06,139.38 563.46,138.87 563.86,138.41 564.25,137.97 564.65,137.57 565.05,137.20 565.45,136.87 565.84,136.57 566.24,136.30 566.64,136.07 567.03,135.88 567.43,135.71 567.83,135.59 568.23,135.50 568.62,135.45 569.02,135.43 569.42,135.44 569.81,135.50 570.21,135.58 570.61,135.71 571.01,135.87 571.40,136.06 571.80,136.29 572.20,136.55 572.59,136.85 572.99,137.18 573.39,137.55 573.79,137.95 574.18,138.38 574.58,138.85 574.98,139.35 575.37,139.88 575.77,140.44 576.17,141.04 576.57,141.67 576.96,142.32 577.36,143.01 577.76,143.73 578.15,144.48 578.55,145.25 578.95,146.05 579.35,146.88 579.74,147.74 580.14,148.62 580.54,149.53 580.93,150.46 581.33,151.42 581.73,152.40 582.13,153.40 582.52,154.43 582.92,155.47 583.32,156.54 583.71,157.62 584.11,158.73 584.51,159.85 584.91,160.99 585.30,162.15 585.70,163.32 586.10,164.51 586.49,165.71 586.89,166.92 587.29,168.15 587.69,169.39 588.08,170.63 588.48,171.89 588.88,173.16 589.27,174.44 589.67,175.72 590.07,177.01 590.47,178.31 590.86,179.61 591.26,180.91 591.66,182.22 592.05,183.54 592.45,184.85 592.85,186.16 593.25,187.48 593.64,188.79 594.04,190.11 594.44,191.42 594.83,192.73 595.23,194.04 595.63,195.34 596.03,196.63 596.42,197.93 596.82,199.21 597.22,200.49 597.61,201.76 598.01,203.03 598.41,204.28 598.81,205.53 599.20,206.76 599.60,207.99"/>
<rect x="42" y="195" width="559" height="3" fill="#e80c10" stroke="none" shape-rendering="crispEdges"/>
</g>
<g fill="#000" stroke="#000" stroke-width="0.3" text-anchor="end">
<text x="35.3" y="25" textLength="27" lengthAdjust="spacingAndGlyphs">1.0V</text>
<text x="35.3" y="60" textLength="27" lengthAdjust="spacingAndGlyphs">0.8V</text>
<text x="35.3" y="95" textLength="27" lengthAdjust="spacingAndGlyphs">0.6V</text>
<text x="35.3" y="131" textLength="27" lengthAdjust="spacingAndGlyphs">0.4V</text>
<text x="35.3" y="166" textLength="27" lengthAdjust="spacingAndGlyphs">0.2V</text>
<text x="35.3" y="201" textLength="27" lengthAdjust="spacingAndGlyphs">0.0V</text>
<text x="35.3" y="236" textLength="31.5" lengthAdjust="spacingAndGlyphs">-0.2V</text>
<text x="35.3" y="271" textLength="31.5" lengthAdjust="spacingAndGlyphs">-0.4V</text>
<text x="35.3" y="307" textLength="31.5" lengthAdjust="spacingAndGlyphs">-0.6V</text>
<text x="35.3" y="342" textLength="31.5" lengthAdjust="spacingAndGlyphs">-0.8V</text>
<text x="35.3" y="377" textLength="31.5" lengthAdjust="spacingAndGlyphs">-1.0V</text>
</g>
<g fill="#000" stroke="#000" stroke-width="0.3" text-anchor="middle">
<text x="43.1" y="393" textLength="39.2" lengthAdjust="spacingAndGlyphs">0.0ms</text>
<text x="99.1" y="393" textLength="39.2" lengthAdjust="spacingAndGlyphs">0.5ms</text>
<text x="154.1" y="393" textLength="39.2" lengthAdjust="spacingAndGlyphs">1.0ms</text>
<text x="210.1" y="393" textLength="39.2" lengthAdjust="spacingAndGlyphs">1.5ms</text>
<text x="265.1" y="393" textLength="39.2" lengthAdjust="spacingAndGlyphs">2.0ms</text>
<text x="321.1" y="393" textLength="39.2" lengthAdjust="spacingAndGlyphs">2.5ms</text>
<text x="377.1" y="393" textLength="39.2" lengthAdjust="spacingAndGlyphs">3.0ms</text>
<text x="432.1" y="393" textLength="39.2" lengthAdjust="spacingAndGlyphs">3.5ms</text>
<text x="488.1" y="393" textLength="39.2" lengthAdjust="spacingAndGlyphs">4.0ms</text>
<text x="543.1" y="393" textLength="39.2" lengthAdjust="spacingAndGlyphs">4.5ms</text>
<text x="599.1" y="393" textLength="39.2" lengthAdjust="spacingAndGlyphs">5.0ms</text>
</g>
<g text-anchor="middle" stroke-width="0.3">
<text x="134.7" y="15" textLength="31" lengthAdjust="spacingAndGlyphs" fill="#48be1e" stroke="#48be1e">V(vs)</text>
<text x="319.8" y="15" textLength="51" lengthAdjust="spacingAndGlyphs" fill="#1212a8" stroke="#1212a8">V(vout2)</text>
<text x="504.8" y="15" textLength="51" lengthAdjust="spacingAndGlyphs" fill="#d40808" stroke="#d40808">V(vout1)</text>
</g>
</svg>
</body></html>
